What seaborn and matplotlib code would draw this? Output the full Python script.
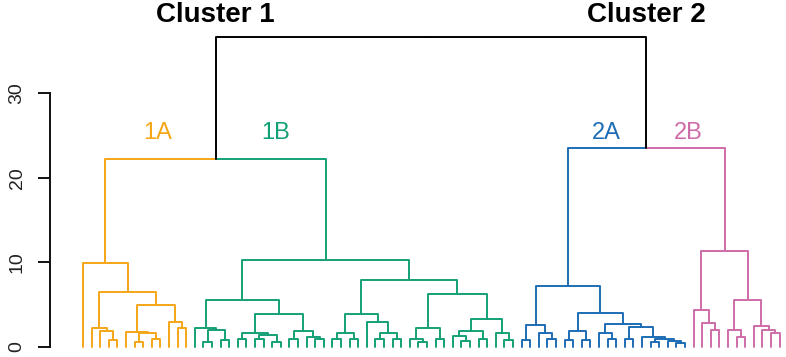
import numpy as np
import pandas as pd
import matplotlib
matplotlib.use("Agg")
import matplotlib.pyplot as plt
import seaborn as sns

# ---------------- data: dendrogram structure ----------------
# internal node = [merge height, left child, right child]; leaf = L
L = None

tree_1A = [9.9, L,
           [6.5,
            [2.3, L, [1.9, L, [0.8, L, L]]],
            [5.0,
             [1.75, L, [1.6, [0.6, L, L], [1.0, L, L]]],
             [3.0, L, [2.3, L, L]]]]]

tree_1B_left = [5.6,
                [2.2, L, [2.0, [0.6, L, L], [0.8, L, L]]],
                [3.85,
                 [1.7, [1.0, L, L], [1.4, [1.0, L, L], [0.6, L, L]]],
                 [1.9, [0.9, L, L], [1.2, L, [0.9, L, L]]]]]
tree_1B_right = [7.9,
                 [3.85,
                  [1.6, [0.9, L, L], [0.9, L, L]],
                  [2.9, L, [1.6, [0.9, L, L], [0.9, L, L]]]],
                 [6.3,
                  [2.3, [1.0, L, [0.6, L, L]], [0.9, L, L]],
                  [3.3,
                   [1.9, [1.3, L, [0.7, L, L]], [1.0, L, L]],
                   [1.6, L, [0.8, L, L]]]]]
tree_1B = [10.3, tree_1B_left, tree_1B_right]

tree_2A = [7.2,
           [2.6, [0.8, L, L], [1.6, L, [0.9, L, L]]],
           [4.0,
            [1.9, [0.8, L, L], [0.8, L, L]],
            [2.7,
             [1.6, L, [0.9, L, L]],
             [2.4, [1.0, L, L],
              [1.2, L, [0.9, [0.6, L, L], [0.7, L, [0.5, L, L]]]]]]]]

tree_2B = [11.3,
           [4.4, L, [2.8, L, [2.0, L, L]]],
           [5.5,
            [2.0, L, [1.2, L, L]],
            [2.5, L, [2.0, L, [1.6, L, L]]]]]

groups = ["1A", "1B", "2A", "2B"]
group_trees = [tree_1A, tree_1B, tree_2A, tree_2B]
group_colors = ["#F5A616", "#14A076", "#1D6CB6", "#CE6DA8"]
cluster_names = ["Cluster 1", "Cluster 2"]
cluster_heights = [22.2, 23.5]
root_height = 36.6
label_x = [8.7, 22.4, 60.8, 70.35]   # in leaf-index units
label_h = 25.3
title_h = 39.2
yticks = [0, 10, 20, 30]

# ---------------- layout ----------------
rows = []
leaf_counter = [0]

def elbow(cx, ch, px, ph, group):
    sid = len(rows)
    rows.append((sid, cx, ch, group))
    rows.append((sid, cx, ph, group))
    rows.append((sid, px, ph, group))

def layout(node, group):
    if node is None:
        x = leaf_counter[0]
        leaf_counter[0] += 1
        return float(x), 0.0
    h, left, right = node
    lx, lh = layout(left, group)
    rx, rh = layout(right, group)
    x = (lx + rx) / 2.0
    elbow(lx, lh, x, h, group)
    elbow(rx, rh, x, h, group)
    return x, h

cluster_x = []
for ci in range(2):
    ga, gb = groups[2 * ci], groups[2 * ci + 1]
    ax_, ah = layout(group_trees[2 * ci], ga)
    bx, bh = layout(group_trees[2 * ci + 1], gb)
    cx = (ax_ + bx) / 2.0
    elbow(ax_, ah, cx, cluster_heights[ci], ga)
    elbow(bx, bh, cx, cluster_heights[ci], gb)
    cluster_x.append(cx)
root_x = np.mean(cluster_x)
for cx, ch in zip(cluster_x, cluster_heights):
    elbow(cx, ch, root_x, root_height, "root")

# expand to per-point rows
pts = []
for k in range(0, len(rows), 3):
    sid = k // 3
    for j in range(3):
        _, x, y, g = rows[k + j]
        pts.append({"seg": sid, "order": j, "x": x, "y": y, "group": g})
df = pd.DataFrame(pts)
n_leaves = leaf_counter[0]

# ---------------- plot ----------------
sns.set_theme(style="white")
plt.rcParams["font.family"] = ["Liberation Sans", "DejaVu Sans"]

W, H = 786, 357
fig = plt.figure(figsize=(W / 100, H / 100), dpi=100)
left_px = 50
ax = fig.add_axes([left_px / W, 0, 1 - left_px / W, 1])

palette = dict(zip(groups, group_colors))
palette["root"] = "#000000"

sns.lineplot(data=df, x="x", y="y", hue="group", units="seg",
             estimator=None, sort=False, palette=palette, legend=False,
             linewidth=1.4, ax=ax)

# scales: leaf spacing ~8.6 px, first leaf at 83 px; 0 at 347 px, 8.467 px/unit
px_per_leaf = 8.6
x0 = (left_px - 83) / px_per_leaf
x1 = (W - 83) / px_per_leaf
ax.set_xlim(x0, x1)
px_per_unit = 8.467
ax.set_ylim(-(H - 347) / px_per_unit, 347 / px_per_unit)

for s in ["top", "right", "bottom"]:
    ax.spines[s].set_visible(False)
ax.spines["left"].set_bounds(0, 30)
ax.spines["left"].set_linewidth(1.4)
ax.spines["left"].set_color("#111111")
ax.set_xticks([])
ax.set_yticks(yticks)
ax.set_yticklabels([str(t) for t in yticks], rotation=90, va="center",
                   fontsize=14, color="#222222")
ax.tick_params(axis="y", length=8.6, width=1.4, color="#111111", pad=9,
               left=True)
ax.set_xlabel("")
ax.set_ylabel("")

for name, cx in zip(cluster_names, cluster_x):
    ax.text(cx, title_h, name, ha="center", va="center", fontsize=20,
            fontweight="bold", color="#000000")
for g, lx, c in zip(groups, label_x, group_colors):
    ax.text(lx, label_h, g, ha="center", va="center", fontsize=17, color=c)

fig.savefig("out.png", dpi=100)
